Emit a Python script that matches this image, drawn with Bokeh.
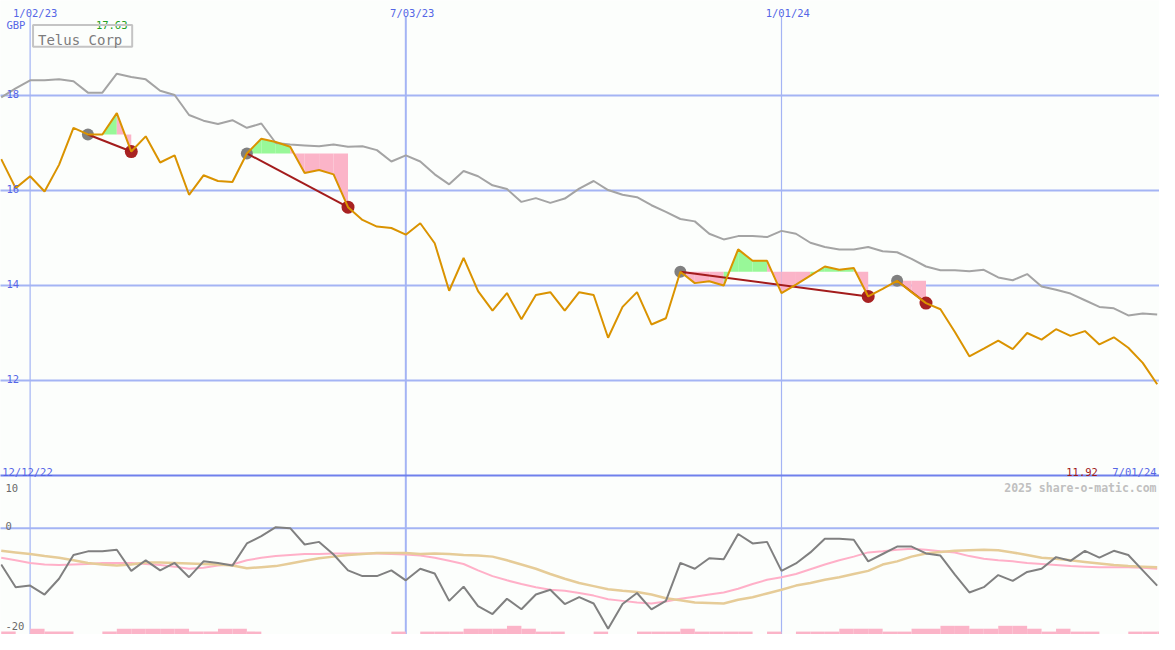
import pandas as pd
from bokeh.plotting import figure
from bokeh.models import Range1d
from bokeh.core.properties import value
from bokeh.embed import file_html
from bokeh.resources import INLINE

# ---------------- data (weekly, week 0 = 1/02/23) ----------------
weeks = list(range(-2, 79))

price = [16.66, 16.05, 16.30, 15.98, 16.54, 17.32, 17.18, 17.18, 17.63, 16.82,
         17.14, 16.59, 16.74, 15.91, 16.32, 16.20, 16.18, 16.78, 17.09, 17.02,
         16.92, 16.37, 16.43, 16.34, 15.65, 15.38, 15.24, 15.21, 15.07, 15.31,
         14.89, 13.89, 14.58, 13.88, 13.47, 13.84, 13.29, 13.80, 13.86, 13.47,
         13.86, 13.80, 12.90, 13.55, 13.86, 13.18, 13.31, 14.29, 14.05, 14.09,
         14.00, 14.76, 14.52, 14.52, 13.84, 14.02, 14.21, 14.40, 14.33, 14.37,
         13.77, 13.93, 14.10, 13.86, 13.63, 13.50, 13.02, 12.51, 12.67, 12.84,
         12.66, 13.00, 12.86, 13.08, 12.94, 13.04, 12.76, 12.91, 12.69, 12.37,
         11.92]

ma_long = [17.96, 18.15, 18.32, 18.32, 18.34, 18.30, 18.06, 18.06, 18.46, 18.39,
           18.34, 18.10, 18.01, 17.59, 17.47, 17.40, 17.48, 17.32, 17.41, 17.00,
           16.97, 16.95, 16.93, 16.97, 16.92, 16.93, 16.85, 16.61, 16.74, 16.61,
           16.34, 16.13, 16.41, 16.30, 16.11, 16.03, 15.76, 15.84, 15.74, 15.83,
           16.04, 16.20, 16.01, 15.91, 15.86, 15.69, 15.55, 15.40, 15.35, 15.09,
           14.97, 15.04, 15.04, 15.02, 15.15, 15.09, 14.90, 14.81, 14.76, 14.76,
           14.81, 14.72, 14.70, 14.56, 14.40, 14.32, 14.32, 14.30, 14.33, 14.17,
           14.11, 14.24, 13.98, 13.91, 13.83, 13.69, 13.55, 13.52, 13.37, 13.41,
           13.39]

osc = [-6.9, -11.2, -10.9, -12.6, -9.6, -5.1, -4.4, -4.4, -4.1, -8.1,
       -6.1, -8.0, -6.6, -9.3, -6.3, -6.6, -7.1, -2.9, -1.5, 0.2,
       0.0, -3.1, -2.6, -5.0, -8.0, -9.1, -9.1, -8.0, -9.9, -7.7,
       -8.6, -13.8, -11.1, -14.8, -16.3, -13.4, -15.4, -12.6, -11.7, -14.4,
       -13.1, -14.3, -19.1, -14.4, -12.3, -15.4, -13.8, -6.6, -7.7, -5.7,
       -5.9, -1.1, -2.9, -2.6, -8.1, -6.7, -4.6, -2.0, -2.0, -2.2,
       -6.3, -4.9, -3.5, -3.5, -4.8, -5.2, -8.8, -12.2, -11.2, -8.9,
       -10.0, -8.3, -7.7, -5.5, -6.2, -4.3, -5.6, -4.3, -5.1, -8.0,
       -10.9]

osc_pink = [-5.6, -6.1, -6.6, -6.9, -7.0, -6.9, -6.8, -6.6, -6.6, -6.6,
            -6.8, -7.0, -7.3, -7.7, -7.5, -7.1, -6.9, -6.1, -5.6, -5.3,
            -5.1, -4.9, -4.9, -4.8, -4.8, -4.8, -4.8, -4.9, -5.0, -5.2,
            -5.6, -6.2, -6.8, -8.0, -9.1, -9.9, -10.6, -11.2, -11.7, -11.9,
            -12.3, -12.8, -13.5, -13.8, -14.1, -14.3, -13.9, -13.4, -13.0, -12.6,
            -12.2, -11.5, -10.6, -9.8, -9.3, -8.7, -7.8, -6.9, -6.1, -5.4,
            -4.6, -4.4, -4.1, -3.9, -4.1, -4.4, -4.6, -5.3, -5.8, -6.1,
            -6.3, -6.6, -6.8, -7.0, -7.2, -7.3, -7.4, -7.4, -7.4, -7.5,
            -7.7]

osc_tan = [-4.3, -4.6, -4.9, -5.3, -5.6, -6.1, -6.6, -6.9, -7.1, -6.9,
           -6.5, -6.5, -6.6, -6.7, -6.8, -6.9, -7.1, -7.6, -7.4, -7.2,
           -6.7, -6.2, -5.7, -5.4, -5.1, -4.9, -4.7, -4.7, -4.7, -4.9,
           -4.8, -4.9, -5.1, -5.2, -5.4, -6.1, -6.9, -7.7, -8.7, -9.6,
           -10.4, -11.0, -11.6, -11.9, -12.1, -12.6, -13.3, -13.7, -14.1, -14.2,
           -14.3, -13.6, -13.1, -12.4, -11.7, -10.9, -10.4, -9.8, -9.3, -8.7,
           -8.1, -6.9, -6.3, -5.4, -4.8, -4.5, -4.3, -4.2, -4.1, -4.2,
           -4.6, -5.1, -5.6, -5.8, -6.1, -6.4, -6.7, -7.0, -7.2, -7.3,
           -7.4]

hist = [0.55, 0.0, 1.1, 0.55, 0.55, 0.0, 0.0, 0.55, 1.1, 1.1,
        1.1, 1.1, 1.1, 0.55, 0.55, 1.1, 1.1, 0.55, 0.0, 0.0,
        0.0, 0.0, 0.0, 0.0, 0.0, 0.0, 0.0, 0.55, 0.0, 0.55,
        0.55, 0.55, 1.1, 1.1, 1.1, 1.65, 1.1, 0.55, 0.55, 0.0,
        0.0, 0.55, 0.0, 0.0, 0.55, 0.55, 0.55, 1.1, 0.55, 0.55,
        0.55, 0.55, 0.0, 0.55, 0.0, 0.55, 0.55, 0.55, 1.1, 1.1,
        1.1, 0.55, 0.55, 1.1, 1.1, 1.65, 1.65, 1.1, 1.1, 1.65,
        1.65, 1.1, 0.55, 1.1, 0.55, 0.55, 0.0, 0.0, 0.55, 0.55,
        0.55]

entry_weeks = [4, 15, 45, 60]
exit_weeks = [7, 22, 58, 62]

tick_weeks = [0, 26, 52]
tick_labels = ["1/02/23", "7/03/23", "1/01/24"]
price_ticks = [12, 14, 16, 18]
osc_ticks = [10, 0, -20]

name = "Telus Corp"
currency = "GBP"
first_date, last_date = "12/12/22", "7/01/24"
watermark = "2025 share-o-matic.com"

# ---------------- styling ----------------
BG = "#FCFEFC"
GRID = "#A4B4F4"
SEP = "#6F80EC"
BLUE_TXT = "#5566E6"
ORANGE = "#DA9300"
MA_GRAY = "#A4A4A4"
OSC_GRAY = "#808080"
PINK = "#FBB4C8"
GREEN = "#98F898"
TAN = "#E6CC98"
DARKRED = "#A31C1C"
MONO = value("DejaVu Sans Mono")

W, H = 1159, 634
X0, X1 = -2.05, 78.16
YTOP, YBOT = 20.0, 20.0 - 650 / 48.7


def dx(px):
    return X0 + px * (X1 - X0) / 1175.0


def dy(py):
    return YTOP - py / 48.7


p = figure(width=W, height=H, x_range=Range1d(X0, X1), y_range=Range1d(YBOT, YTOP),
           output_backend="svg", toolbar_location=None,
           x_axis_location=None, y_axis_location=None, min_border=0,
           background_fill_color=BG, border_fill_color=BG, outline_line_color=None)
p.grid.visible = False
p.extra_y_ranges = {"osc": Range1d(-20.185, 100.185)}

# grid lines
for t in price_ticks:
    p.line(x=[X0 - 1, X1 + 1], y=[t, t], line_color=GRID, line_width=2)
p.line(x=[X0 - 1, X1 + 1], y=[0, 0], y_range_name="osc", line_color=GRID, line_width=2)
for t, lw in zip(tick_weeks, [1.2, 2, 1.2]):
    p.line(x=[t, t], y=[dy(16), YBOT - 1], line_color=GRID, line_width=lw)
p.line(x=[X0 - 1, X1 + 1], y=[10, 10], line_color=SEP, line_width=2)

# oscillator panel
hl = [w for w, h in zip(weeks, hist) if h > 0]
hr = [w + 1 for w, h in zip(weeks, hist) if h > 0]
ht = [-20.185 + h for h in hist if h > 0]
p.quad(left=hl, right=hr, bottom=[-21.0] * len(hl), top=ht, y_range_name="osc",
       fill_color=PINK, line_color=None)
p.line(weeks, osc_pink, y_range_name="osc", line_color="#FFB0C8", line_width=2)
p.line(weeks, osc_tan, y_range_name="osc", line_color=TAN, line_width=2.5)
p.line(weeks, osc, y_range_name="osc", line_color=OSC_GRAY, line_width=2)

# signal fills
idx = {w: i for i, w in enumerate(weeks)}
xs, ys, cols = [], [], []
for a, b in zip(entry_weeks, exit_weeks):
    lvl = price[idx[a]]
    for w in range(a, b):
        p0, p1 = price[idx[w]], price[idx[w + 1]]
        xs.append([w, w, w + 1, w + 1])
        ys.append([lvl, p0, p1, lvl])
        cols.append(GREEN if p1 >= lvl else PINK)
p.patches(xs=xs, ys=ys, fill_color=cols, line_color=None)

# long moving average
p.line(weeks, ma_long, line_color=MA_GRAY, line_width=2)

# signal dots and trade lines
p.scatter(x=entry_weeks, y=[price[idx[w]] for w in entry_weeks], size=12,
          fill_color="#808080", line_color=None)
p.scatter(x=exit_weeks, y=[price[idx[w]] for w in exit_weeks], size=13,
          fill_color="#A82222", line_color=None)
p.segment(x0=entry_weeks, y0=[price[idx[w]] for w in entry_weeks],
          x1=exit_weeks, y1=[price[idx[w]] for w in exit_weeks],
          line_color=DARKRED, line_width=2)

# price
p.line(weeks, price, line_color=ORANGE, line_width=2)

# ---------------- texts ----------------
def txt(xpx, ypx, s, color, size="10.5px", align="left", style="normal", font=MONO):
    p.text(x=[dx(xpx)], y=[dy(ypx)], text=[s], text_color=color, text_font=font,
           text_font_size=size, text_align=align, text_baseline="alphabetic",
           text_font_style=style)

label_left = [12.7, 395, 775.7]
for lx, s in zip(label_left, tick_labels):
    txt(lx, 12.7, s, BLUE_TXT)
txt(6, 25, currency, BLUE_TXT)
txt(96.7, 25, f"{max(price):.2f}", "#22A022")
for t in price_ticks:
    ly = (YTOP - t) * 48.7
    txt(6, ly - 1.8, str(t), BLUE_TXT)

# name box
p.quad(left=[dx(33)], right=[dx(133.5)], top=[dy(25)], bottom=[dy(47.5)],
       fill_color=None, line_color="#C4C4C4", line_width=2)
txt(38, 40.5, name, "#7C7C7C", size="14px")

txt(1.7, 483.3, first_date, BLUE_TXT)
txt(1172, 483.3, last_date, BLUE_TXT, align="right")
txt(1112.5, 483.3, f"{price[-1]:.2f}", "#A01818", align="right")
txt(1172, 500, watermark, "#C0C0C0", size="11.5px", align="right", style="bold")

osc_lab_y = {10: 500, 0: 538.3, -20: 641.5}
for t in osc_ticks:
    txt(5, osc_lab_y[t], str(t), "#6A6A6A")

open("out.html", "w").write(file_html(p, INLINE))
